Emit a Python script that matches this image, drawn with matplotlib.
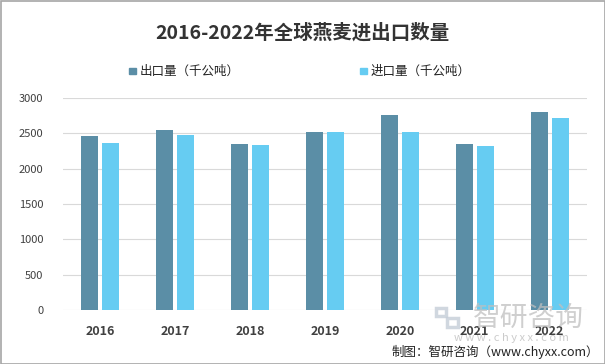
import matplotlib
matplotlib.use("Agg")
import matplotlib.pyplot as plt
import numpy as np
from matplotlib.patches import Rectangle

plt.rcParams['font.family'] = ['Noto Sans CJK SC', 'DejaVu Sans']

years = ['2016', '2017', '2018', '2019', '2020', '2021', '2022']
export_vals = [2465, 2547, 2350, 2520, 2765, 2350, 2802]
import_vals = [2367, 2476, 2336, 2520, 2520, 2320, 2717]
export_label = '出口量（千公吨）'
import_label = '进口量（千公吨）'
title = '2016-2022年全球燕麦进出口数量'
credit = '制图：智研咨询（www.chyxx.com）'

c_exp = '#5B8EA6'
c_imp = '#66CCF2'

W, H = 605, 364
fig = plt.figure(figsize=(W/100, H/100), dpi=100)
ax = fig.add_axes([63/W, 1-310/H, (587-63)/W, (310-98)/H])

x = np.arange(len(years))
bw = 0.227
off = 0.14
ax.bar(x - off, export_vals, bw, color=c_exp, label=export_label, zorder=3)
ax.bar(x + off, import_vals, bw, color=c_imp, label=import_label, zorder=3)

ax.set_xlim(-0.5, len(years) - 0.5)
ax.set_ylim(0, 3000)
ax.set_yticks(np.arange(0, 3001, 500))
ax.tick_params(axis='y', labelsize=8, colors='#404040', length=0, pad=14)
ax.set_xticks(x)
ax.set_xticklabels(years, fontsize=9, fontweight='bold', color='#404040')
ax.tick_params(axis='x', length=0, pad=11)
ax.grid(axis='y', color='#D9D9D9', linewidth=0.8, zorder=0)
for s in ax.spines.values():
    s.set_visible(False)

fig.text(0.5, 1-33/H, title, ha='center', va='center', fontsize=14, fontweight='bold', color='#333333')

# legend
for (lx, col, lab) in [(129, c_exp, export_label), (360, c_imp, import_label)]:
    fig.patches.append(Rectangle((lx/W, 1-74/H), 7/W, 6/H, transform=fig.transFigure, color=col))
    fig.text((lx+11)/W, 1-71/H, lab, ha='left', va='center', fontsize=9, color='#222222')

# watermark logo
wm = '#C5CDD8'
fig.patches.append(Rectangle((436/W, 1-316/H), 10/W, 8/H, transform=fig.transFigure, fill=False, edgecolor=wm, linewidth=2.5, alpha=0.8))
fig.patches.append(Rectangle((447/W, 1-327/H), 11/W, 9/H, transform=fig.transFigure, fill=False, edgecolor=wm, linewidth=2.5, alpha=0.8))
fig.text(528/W, 1-318/H, '智研咨询', ha='center', va='center', fontsize=20, color='#BFBFBF', alpha=0.75)
fig.text(511/W, 1-338/H, 'w w w . c h y x x . c o m', ha='center', va='center', fontsize=8, color='#BFBFBF', alpha=0.8)

fig.text(599/W, 1-352/H, credit, ha='right', va='center', fontsize=9, color='#222222')

# border
fig.patches.append(Rectangle((0.5/W, 0.5/H), 1-1/W, 1-1/H, transform=fig.transFigure, fill=False, edgecolor='#A6A6A6', linewidth=1.2))

fig.savefig('out.png', dpi=100)
